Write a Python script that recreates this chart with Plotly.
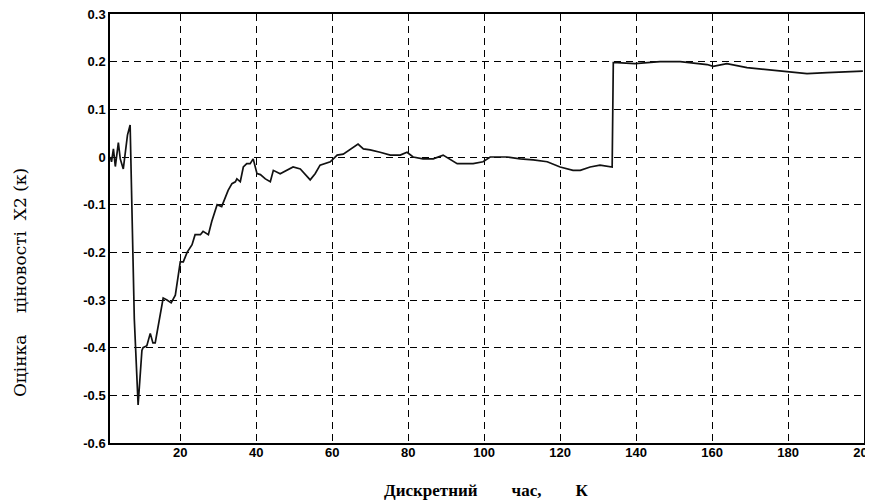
import plotly.graph_objects as go

# discrete time k and estimate X2(k)
k_values = [1.6, 1.9, 2.4, 2.9, 3.7, 4.2, 5.0, 5.5, 6.1, 6.8, 7.3, 7.9, 8.9,
            9.9, 10.2, 11.2, 12.1, 12.8, 13.4, 14.7, 15.5, 16.5, 17.6, 18.7,
            19.5, 20.0, 20.8, 21.8, 23.1, 23.9, 25.3, 26.0, 27.4, 28.3, 29.7,
            30.9, 32.6, 33.6, 34.5, 34.9, 35.8, 36.6, 37.5, 38.4, 39.2, 40.2,
            41.1, 42.4, 43.7, 44.5, 46.3, 48.1, 49.7, 51.6, 54.2, 55.5, 56.8,
            59.5, 61.3, 62.9, 64.7, 66.8, 68.2, 70.0, 72.6, 75.3, 77.9, 79.7,
            81.3, 83.9, 86.6, 89.2, 92.9, 97.1, 99.7, 101.6, 106.0, 109.5,
            112.9, 116.6, 120.0, 123.4, 125.3, 127.9, 130.5, 133.7, 134.0,
            135.0, 139.7, 146.3, 151.6, 158.7, 160.3, 163.9, 169.2, 174.5,
            179.7, 185.0, 190.3, 195.5, 199.7]
x2_values = [0.0, -0.01, 0.017, -0.02, 0.03, -0.004, -0.025, 0.004, 0.046, 0.067,
             -0.09, -0.34, -0.52,
             -0.406, -0.40, -0.396, -0.37, -0.39, -0.39, -0.333, -0.296, -0.30,
             -0.306, -0.29, -0.25, -0.22, -0.22, -0.20, -0.184, -0.163, -0.163,
             -0.156, -0.163, -0.135, -0.10, -0.104, -0.07, -0.056, -0.052,
             -0.046, -0.052, -0.021, -0.014, -0.014, -0.004, -0.035, -0.037,
             -0.046, -0.052, -0.028, -0.035, -0.028, -0.021, -0.025, -0.048,
             -0.035, -0.017, -0.01, 0.004, 0.006, 0.015, 0.027, 0.017, 0.015,
             0.01, 0.004, 0.004, 0.01, 0.0, -0.004, -0.004, 0.004, -0.014,
             -0.014, -0.01, 0.0, 0.0, -0.004, -0.006, -0.01, -0.021, -0.028,
             -0.028, -0.021, -0.017, -0.021, 0.198, 0.198, 0.196, 0.2, 0.2,
             0.194, 0.19, 0.196, 0.1875, 0.183, 0.179, 0.175, 0.177, 0.179, 0.18]

x_tick_vals = [20, 40, 60, 80, 100, 120, 140, 160, 180, 200]
x_tick_text = ["20", "40", "60", "80", "100", "120", "140", "160", "180", "200"]
y_tick_vals = [0.3, 0.2, 0.1, 0, -0.1, -0.2, -0.3, -0.4, -0.5, -0.6]
y_tick_text = ["0.3", "0.2", "0.1", "0", "-0.1", "-0.2", "-0.3", "-0.4", "-0.5", "-0.6"]

NB = "\u00a0"
x_title = "Дискретний" + NB * 8 + "час," + NB * 8 + "К"
y_title = "Оцінка" + NB * 4 + "ціновості" + NB * 2 + "X2" + NB + "(к)"

fig = go.Figure()
fig.add_trace(go.Scatter(
    x=k_values, y=x2_values, mode="lines",
    line=dict(color="#111111", width=1.7),
    showlegend=False,
))

tickfont = dict(family="Liberation Sans", size=13, color="black", weight="bold")
common = dict(
    showgrid=True, gridcolor="black", gridwidth=1, griddash="7px,5px",
    showline=True, linecolor="black", linewidth=1.5, mirror=True,
    zeroline=False, ticks="", tickfont=tickfont, automargin=False,
    ticklabeloverflow="allow",
)
fig.update_xaxes(range=[1.5, 200], tickvals=x_tick_vals, ticktext=x_tick_text,
                 ticklabelstandoff=-3, **common)
fig.update_yaxes(range=[-0.6, 0.3], tickvals=y_tick_vals, ticktext=y_tick_text,
                 **common)

fig.add_annotation(
    text=x_title, xref="paper", yref="paper", x=0.499, y=-0.085,
    xanchor="center", yanchor="top", showarrow=False,
    font=dict(family="Liberation Serif", size=17, color="black", weight="bold"),
)
fig.add_annotation(
    text=y_title, xref="paper", yref="paper", x=-0.1194, y=0.375,
    xanchor="center", yanchor="middle", textangle=-90, showarrow=False,
    font=dict(family="DejaVu Serif", size=17, color="black"),
)

# page body has an 8px margin; plot area lands at x 110..864, y 14..443
fig.update_layout(
    width=873, height=500,
    margin=dict(l=102, r=17, t=6, b=65),
    paper_bgcolor="white", plot_bgcolor="white",
)
fig.write_html("out.html")
